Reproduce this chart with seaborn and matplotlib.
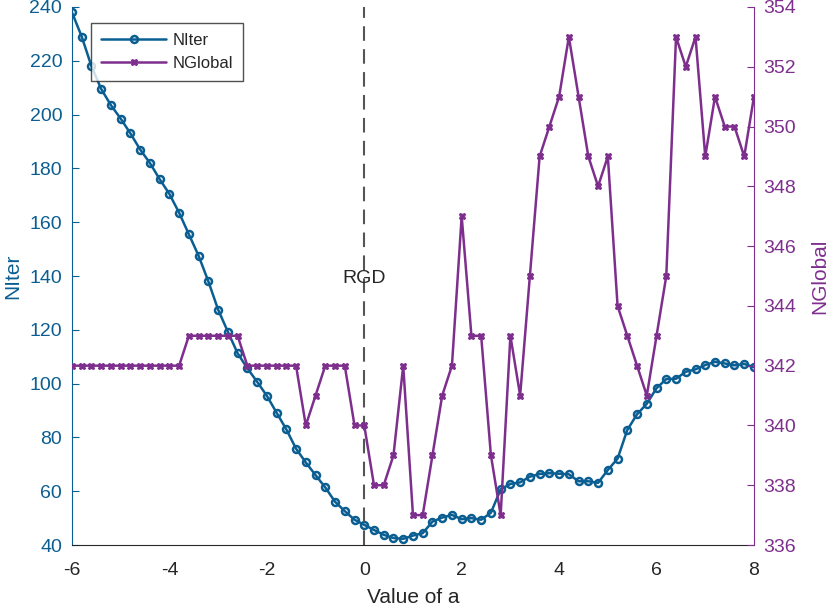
import numpy as np
import pandas as pd
import matplotlib
matplotlib.use('Agg')
import matplotlib.pyplot as plt
import seaborn as sns

# ---------------------------------------------------------------
# data (a = -6 .. 8, step 0.2)
# ---------------------------------------------------------------
a_values = np.round(np.arange(-6, 8.0001, 0.2), 1)

n_iter = [238, 229, 218, 209.5, 203.5, 198.5, 193, 187, 182, 176,
          170.5, 163.5, 155.5, 147.5, 138, 127.5, 119.3, 111.3, 105.7, 100.7,
          95.5, 89.2, 83, 75.8, 70.7, 66, 61.4, 56.1, 52.6, 49.4,
          47.5, 45.6, 43.8, 42.6, 42.3, 43.5, 44.4, 48.7, 50.2, 51.2,
          49.6, 50, 49.4, 52, 60.7, 62.7, 63.3, 65.4, 66.4, 66.7,
          66.5, 66.3, 63.7, 63.7, 63.1, 67.9, 72.1, 82.8, 88.6, 92.5,
          98.3, 101.7, 101.8, 104.4, 105.3, 106.9, 108.1, 107.5, 106.8, 107.3,
          106.1]

n_global = [342, 342, 342, 342, 342, 342, 342, 342, 342, 342,
            342, 342, 343, 343, 343, 343, 343, 343, 342, 342,
            342, 342, 342, 342, 340, 341, 342, 342, 342, 340,
            340, 338, 338, 339, 342, 337, 337, 339, 341, 342,
            347, 343, 343, 339, 337, 343, 341, 345, 349, 350,
            351, 353, 351, 349, 348, 349, 344, 343, 342, 341,
            343, 345, 353, 352, 353, 349, 351, 350, 350, 349,
            351]

df = pd.DataFrame({'a': a_values, 'NIter': n_iter, 'NGlobal': n_global})

blue = '#0B5E92'
purple = '#7E2F8E'
dark = '#262626'

sns.set_style('white')
plt.rcParams['font.family'] = ['Liberation Sans', 'DejaVu Sans']
plt.rcParams['axes.unicode_minus'] = False

fig, ax = plt.subplots(figsize=(8.3, 6.07), dpi=100)
fig.subplots_adjust(left=0.0867, right=0.9084, top=0.9885, bottom=0.1021)
ax2 = ax.twinx()

sns.lineplot(data=df, x='a', y='NIter', ax=ax, color=blue, marker='o',
             markersize=5, markerfacecolor='none', markeredgecolor=blue,
             markeredgewidth=1.8, linewidth=1.8, label='NIter', legend=False)
sns.lineplot(data=df, x='a', y='NGlobal', ax=ax2, color=purple, marker='X',
             markersize=5, markeredgecolor=purple, markeredgewidth=0.8,
             linewidth=1.8, label='NGlobal', legend=False)

ax.axvline(0, color='#555555', linestyle=(0, (7, 4)), linewidth=1.5)
ax.text(0, 139, 'RGD', ha='center', va='center', fontsize=14, color=dark)

ax.set_xlim(-6, 8)
ax.set_ylim(40, 240)
ax2.set_ylim(336, 354)
ax.set_xticks(np.arange(-6, 9, 2))
ax.set_yticks(np.arange(40, 241, 20))
ax2.set_yticks(np.arange(336, 355, 2))

ax.set_xlabel('Value of a', fontsize=15, color=dark, labelpad=7)
ax.set_ylabel('NIter', fontsize=15, color=blue, labelpad=5)
ax2.set_ylabel('NGlobal', fontsize=15, color=purple, labelpad=10)

for axis in (ax, ax2):
    axis.spines['top'].set_visible(False)
ax.spines['left'].set_color(blue)
ax.spines['right'].set_visible(False)
ax.spines['bottom'].set_color(dark)
ax2.spines['right'].set_color(purple)
ax2.spines['left'].set_visible(False)
ax2.spines['bottom'].set_visible(False)

ax.tick_params(axis='x', direction='in', length=5, colors=dark, labelsize=14, pad=12)
ax.tick_params(axis='y', direction='in', length=5, colors=blue, labelsize=14, pad=7)
ax2.tick_params(axis='y', direction='in', length=5, colors=purple, labelsize=14, pad=7)

h1, l1 = ax.get_legend_handles_labels()
h2, l2 = ax2.get_legend_handles_labels()
leg = ax.legend(h1 + h2, l1 + l2, loc='upper left', bbox_to_anchor=(0.028, 0.970),
                fontsize=12, frameon=True, fancybox=False, edgecolor=dark,
                borderpad=0.6, handlelength=3.9, handletextpad=0.4,
                labelspacing=0.45, borderaxespad=0)
leg.get_frame().set_linewidth(1.0)
leg.set_zorder(10)

fig.savefig('out.png', dpi=100)
